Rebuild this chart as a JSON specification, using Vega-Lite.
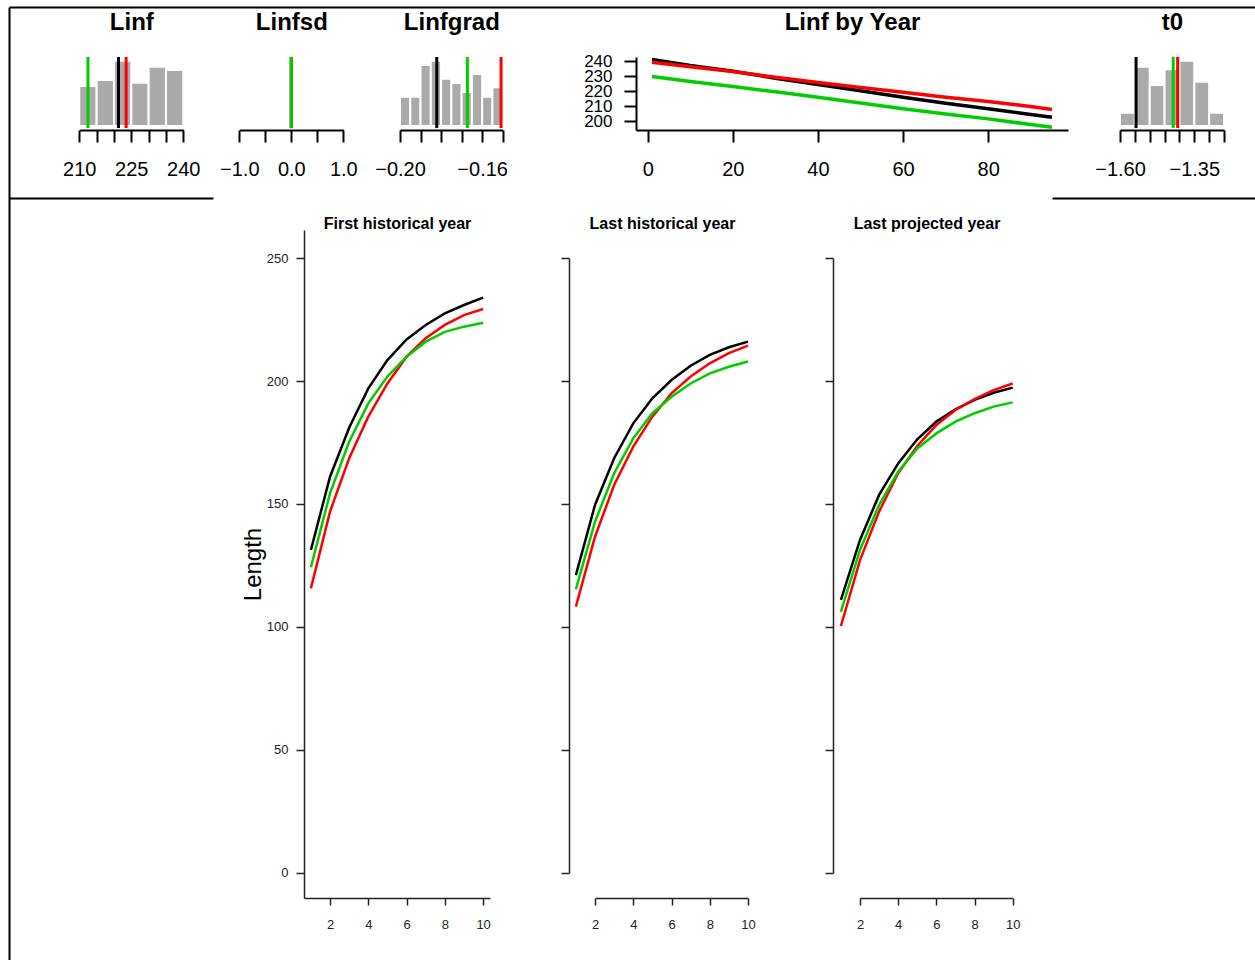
{
  "$schema": "https://vega.github.io/schema/vega-lite/v6.json",
  "width": 1255,
  "height": 960,
  "padding": 0,
  "autosize": {"type": "none"},
  "background": "white",
  "config": {
    "view": {"stroke": null},
    "font": "Liberation Sans",
    "axis": {"grid": false, "labelFlush": false, "labelOverlap": false, "labelFont": "Liberation Sans", "titleFont": "Liberation Sans", "labelColor": "#000000", "titleColor": "#000000", "domainColor": "#000000", "tickColor": "#000000"}
  },
  "datasets": {
    "hist": [
      {"param": "Linf", "lo": 210, "hi": 215, "h": 0.58},
      {"param": "Linf", "lo": 215, "hi": 220, "h": 0.667},
      {"param": "Linf", "lo": 220, "hi": 225, "h": 0.945},
      {"param": "Linf", "lo": 225, "hi": 230, "h": 0.628},
      {"param": "Linf", "lo": 230, "hi": 235, "h": 0.86},
      {"param": "Linf", "lo": 235, "hi": 240, "h": 0.81},
      {"param": "Linfgrad", "lo": -0.2, "hi": -0.195, "h": 0.425},
      {"param": "Linfgrad", "lo": -0.195, "hi": -0.19, "h": 0.425},
      {"param": "Linfgrad", "lo": -0.19, "hi": -0.185, "h": 0.884},
      {"param": "Linfgrad", "lo": -0.185, "hi": -0.18, "h": 0.947},
      {"param": "Linfgrad", "lo": -0.18, "hi": -0.175, "h": 0.686},
      {"param": "Linfgrad", "lo": -0.175, "hi": -0.17, "h": 0.623},
      {"param": "Linfgrad", "lo": -0.17, "hi": -0.165, "h": 0.493},
      {"param": "Linfgrad", "lo": -0.165, "hi": -0.16, "h": 0.754},
      {"param": "Linfgrad", "lo": -0.16, "hi": -0.155, "h": 0.425},
      {"param": "Linfgrad", "lo": -0.155, "hi": -0.15, "h": 0.56},
      {"param": "t0", "lo": -1.6, "hi": -1.55, "h": 0.193},
      {"param": "t0", "lo": -1.55, "hi": -1.5, "h": 0.86},
      {"param": "t0", "lo": -1.5, "hi": -1.45, "h": 0.594},
      {"param": "t0", "lo": -1.45, "hi": -1.4, "h": 0.821},
      {"param": "t0", "lo": -1.4, "hi": -1.35, "h": 0.947},
      {"param": "t0", "lo": -1.35, "hi": -1.3, "h": 0.643},
      {"param": "t0", "lo": -1.3, "hi": -1.25, "h": 0.193}
    ],
    "vlines": [
      {"param": "Linf", "sim": "1", "value": 221.3},
      {"param": "Linf", "sim": "2", "value": 223.5},
      {"param": "Linf", "sim": "3", "value": 212.5},
      {"param": "Linfsd", "sim": "1", "value": 0},
      {"param": "Linfsd", "sim": "2", "value": 0},
      {"param": "Linfsd", "sim": "3", "value": 0},
      {"param": "Linfgrad", "sim": "1", "value": -0.1821},
      {"param": "Linfgrad", "sim": "2", "value": -0.1508},
      {"param": "Linfgrad", "sim": "3", "value": -0.1672},
      {"param": "t0", "sim": "1", "value": -1.546},
      {"param": "t0", "sim": "2", "value": -1.406},
      {"param": "t0", "sim": "3", "value": -1.421}
    ],
    "linfyear": [
      {"sim": "1", "year": 1, "linf": 241.1},
      {"sim": "1", "year": 10, "linf": 237.1},
      {"sim": "1", "year": 20, "linf": 233.3},
      {"sim": "1", "year": 30, "linf": 228.7},
      {"sim": "1", "year": 40, "linf": 224.5},
      {"sim": "1", "year": 50, "linf": 220.3},
      {"sim": "1", "year": 60, "linf": 216},
      {"sim": "1", "year": 70, "linf": 212},
      {"sim": "1", "year": 80, "linf": 208.3},
      {"sim": "1", "year": 90, "linf": 204.5},
      {"sim": "1", "year": 95, "linf": 202.7},
      {"sim": "2", "year": 1, "linf": 239.3},
      {"sim": "2", "year": 10, "linf": 236.3},
      {"sim": "2", "year": 20, "linf": 233.1},
      {"sim": "2", "year": 30, "linf": 229.3},
      {"sim": "2", "year": 40, "linf": 225.8},
      {"sim": "2", "year": 50, "linf": 222.5},
      {"sim": "2", "year": 60, "linf": 219.3},
      {"sim": "2", "year": 70, "linf": 216},
      {"sim": "2", "year": 80, "linf": 213.1},
      {"sim": "2", "year": 90, "linf": 209.8},
      {"sim": "2", "year": 95, "linf": 207.8},
      {"sim": "3", "year": 1, "linf": 229.8},
      {"sim": "3", "year": 10, "linf": 226.5},
      {"sim": "3", "year": 20, "linf": 223.1},
      {"sim": "3", "year": 30, "linf": 219.6},
      {"sim": "3", "year": 40, "linf": 216},
      {"sim": "3", "year": 50, "linf": 212.2},
      {"sim": "3", "year": 60, "linf": 208.3},
      {"sim": "3", "year": 70, "linf": 204.9},
      {"sim": "3", "year": 80, "linf": 201.6},
      {"sim": "3", "year": 90, "linf": 197.8},
      {"sim": "3", "year": 95, "linf": 196}
    ],
    "growth": [
      {"panel": "First historical year", "sim": "1", "age": 1, "length": 131.3},
      {"panel": "First historical year", "sim": "1", "age": 2, "length": 161.1},
      {"panel": "First historical year", "sim": "1", "age": 3, "length": 181},
      {"panel": "First historical year", "sim": "1", "age": 4, "length": 197},
      {"panel": "First historical year", "sim": "1", "age": 5, "length": 208.5},
      {"panel": "First historical year", "sim": "1", "age": 6, "length": 216.9},
      {"panel": "First historical year", "sim": "1", "age": 7, "length": 222.8},
      {"panel": "First historical year", "sim": "1", "age": 8, "length": 227.5},
      {"panel": "First historical year", "sim": "1", "age": 9, "length": 230.9},
      {"panel": "First historical year", "sim": "1", "age": 10, "length": 233.9},
      {"panel": "First historical year", "sim": "2", "age": 1, "length": 115.7},
      {"panel": "First historical year", "sim": "2", "age": 2, "length": 146.9},
      {"panel": "First historical year", "sim": "2", "age": 3, "length": 168.6},
      {"panel": "First historical year", "sim": "2", "age": 4, "length": 185.5},
      {"panel": "First historical year", "sim": "2", "age": 5, "length": 199},
      {"panel": "First historical year", "sim": "2", "age": 6, "length": 209.9},
      {"panel": "First historical year", "sim": "2", "age": 7, "length": 217.4},
      {"panel": "First historical year", "sim": "2", "age": 8, "length": 222.8},
      {"panel": "First historical year", "sim": "2", "age": 9, "length": 226.8},
      {"panel": "First historical year", "sim": "2", "age": 10, "length": 229.3},
      {"panel": "First historical year", "sim": "3", "age": 1, "length": 124.3},
      {"panel": "First historical year", "sim": "3", "age": 2, "length": 154.3},
      {"panel": "First historical year", "sim": "3", "age": 3, "length": 175.3},
      {"panel": "First historical year", "sim": "3", "age": 4, "length": 190.9},
      {"panel": "First historical year", "sim": "3", "age": 5, "length": 201.8},
      {"panel": "First historical year", "sim": "3", "age": 6, "length": 209.9},
      {"panel": "First historical year", "sim": "3", "age": 7, "length": 216},
      {"panel": "First historical year", "sim": "3", "age": 8, "length": 220},
      {"panel": "First historical year", "sim": "3", "age": 9, "length": 222.1},
      {"panel": "First historical year", "sim": "3", "age": 10, "length": 223.7},
      {"panel": "Last historical year", "sim": "1", "age": 1, "length": 121.1},
      {"panel": "Last historical year", "sim": "1", "age": 2, "length": 149.6},
      {"panel": "Last historical year", "sim": "1", "age": 3, "length": 168.6},
      {"panel": "Last historical year", "sim": "1", "age": 4, "length": 182.8},
      {"panel": "Last historical year", "sim": "1", "age": 5, "length": 193},
      {"panel": "Last historical year", "sim": "1", "age": 6, "length": 200.4},
      {"panel": "Last historical year", "sim": "1", "age": 7, "length": 206.2},
      {"panel": "Last historical year", "sim": "1", "age": 8, "length": 210.6},
      {"panel": "Last historical year", "sim": "1", "age": 9, "length": 213.7},
      {"panel": "Last historical year", "sim": "1", "age": 10, "length": 216},
      {"panel": "Last historical year", "sim": "2", "age": 1, "length": 108.3},
      {"panel": "Last historical year", "sim": "2", "age": 2, "length": 136.7},
      {"panel": "Last historical year", "sim": "2", "age": 3, "length": 157.7},
      {"panel": "Last historical year", "sim": "2", "age": 4, "length": 173.3},
      {"panel": "Last historical year", "sim": "2", "age": 5, "length": 185.5},
      {"panel": "Last historical year", "sim": "2", "age": 6, "length": 195},
      {"panel": "Last historical year", "sim": "2", "age": 7, "length": 201.8},
      {"panel": "Last historical year", "sim": "2", "age": 8, "length": 207.2},
      {"panel": "Last historical year", "sim": "2", "age": 9, "length": 211.3},
      {"panel": "Last historical year", "sim": "2", "age": 10, "length": 214.4},
      {"panel": "Last historical year", "sim": "3", "age": 1, "length": 115.3},
      {"panel": "Last historical year", "sim": "3", "age": 2, "length": 142.8},
      {"panel": "Last historical year", "sim": "3", "age": 3, "length": 162.5},
      {"panel": "Last historical year", "sim": "3", "age": 4, "length": 176.7},
      {"panel": "Last historical year", "sim": "3", "age": 5, "length": 186.9},
      {"panel": "Last historical year", "sim": "3", "age": 6, "length": 193.6},
      {"panel": "Last historical year", "sim": "3", "age": 7, "length": 199},
      {"panel": "Last historical year", "sim": "3", "age": 8, "length": 203.1},
      {"panel": "Last historical year", "sim": "3", "age": 9, "length": 205.8},
      {"panel": "Last historical year", "sim": "3", "age": 10, "length": 207.9},
      {"panel": "Last projected year", "sim": "1", "age": 1, "length": 111},
      {"panel": "Last projected year", "sim": "1", "age": 2, "length": 135.4},
      {"panel": "Last projected year", "sim": "1", "age": 3, "length": 153.7},
      {"panel": "Last projected year", "sim": "1", "age": 4, "length": 166.5},
      {"panel": "Last projected year", "sim": "1", "age": 5, "length": 176.3},
      {"panel": "Last projected year", "sim": "1", "age": 6, "length": 183.5},
      {"panel": "Last projected year", "sim": "1", "age": 7, "length": 188.5},
      {"panel": "Last projected year", "sim": "1", "age": 8, "length": 192.3},
      {"panel": "Last projected year", "sim": "1", "age": 9, "length": 195.2},
      {"panel": "Last projected year", "sim": "1", "age": 10, "length": 197.3},
      {"panel": "Last projected year", "sim": "2", "age": 1, "length": 100.4},
      {"panel": "Last projected year", "sim": "2", "age": 2, "length": 127.2},
      {"panel": "Last projected year", "sim": "2", "age": 3, "length": 146.9},
      {"panel": "Last projected year", "sim": "2", "age": 4, "length": 162.5},
      {"panel": "Last projected year", "sim": "2", "age": 5, "length": 173.6},
      {"panel": "Last projected year", "sim": "2", "age": 6, "length": 182.1},
      {"panel": "Last projected year", "sim": "2", "age": 7, "length": 188.2},
      {"panel": "Last projected year", "sim": "2", "age": 8, "length": 192.6},
      {"panel": "Last projected year", "sim": "2", "age": 9, "length": 196.3},
      {"panel": "Last projected year", "sim": "2", "age": 10, "length": 199},
      {"panel": "Last projected year", "sim": "3", "age": 1, "length": 106.2},
      {"panel": "Last projected year", "sim": "3", "age": 2, "length": 131.3},
      {"panel": "Last projected year", "sim": "3", "age": 3, "length": 149.6},
      {"panel": "Last projected year", "sim": "3", "age": 4, "length": 163.1},
      {"panel": "Last projected year", "sim": "3", "age": 5, "length": 172.6},
      {"panel": "Last projected year", "sim": "3", "age": 6, "length": 178.7},
      {"panel": "Last projected year", "sim": "3", "age": 7, "length": 183.5},
      {"panel": "Last projected year", "sim": "3", "age": 8, "length": 186.9},
      {"panel": "Last projected year", "sim": "3", "age": 9, "length": 189.6},
      {"panel": "Last projected year", "sim": "3", "age": 10, "length": 191.3}
    ]
  },
  "layer": [
    {
      "data": {"name": "linfyear"},
      "mark": {"type": "point", "opacity": 0},
      "encoding": {
        "x": {"field": "year", "type": "quantitative", "scale": {"domain": [0, 100], "range": [9, 1255], "nice": false, "zero": false},
          "axis": {"orient": "top", "offset": -7, "ticks": false, "labels": false, "title": null, "domainWidth": 2}},
        "y": {"field": "linf", "type": "quantitative", "scale": {"domain": [190, 250], "range": [960, 7], "nice": false, "zero": false},
          "axis": {"orient": "left", "offset": -9, "ticks": false, "labels": false, "title": null, "domainWidth": 2}}
      }
    },
    {
      "data": {"name": "linfyear"},
      "mark": {"type": "point", "opacity": 0},
      "encoding": {
        "x": {"field": "year", "type": "quantitative", "scale": {"domain": [0, 100], "range": [9, 213], "nice": false, "zero": false},
          "axis": {"orient": "top", "offset": -198, "ticks": false, "labels": false, "title": null, "domainWidth": 2}},
        "y": {"field": "linf", "type": "quantitative", "scale": {"domain": [190, 250], "range": [960, 7], "nice": false, "zero": false}, "axis": null}
      }
    },
    {
      "data": {"name": "linfyear"},
      "mark": {"type": "point", "opacity": 0},
      "encoding": {
        "x": {"field": "year", "type": "quantitative", "scale": {"domain": [0, 100], "range": [1052, 1255], "nice": false, "zero": false},
          "axis": {"orient": "top", "offset": -198, "ticks": false, "labels": false, "title": null, "domainWidth": 2}},
        "y": {"field": "linf", "type": "quantitative", "scale": {"domain": [190, 250], "range": [960, 7], "nice": false, "zero": false}, "axis": null}
      }
    },
    {
      "data": {"name": "hist"},
      "transform": [{"filter": "datum.param == 'Linf'"}],
      "mark": {"type": "bar", "fill": "#aaaaaa", "stroke": "white", "strokeWidth": 2},
      "encoding": {
        "x": {"field": "lo", "type": "quantitative", "scale": {"domain": [210, 240], "range": [79.3, 183.3], "nice": false, "zero": false}, "axis": null},
        "x2": {"field": "hi"},
        "y": {"field": "h", "type": "quantitative", "scale": {"domain": [0, 1], "range": [126, 57], "nice": false, "zero": false}, "axis": null},
        "y2": {"datum": 0}
      }
    },
    {
      "data": {"name": "vlines"},
      "transform": [{"filter": "datum.param == 'Linf'"}],
      "mark": {"type": "rule", "strokeWidth": 3},
      "encoding": {
        "x": {"field": "value", "type": "quantitative", "scale": {"domain": [210, 240], "range": [79.3, 183.3], "nice": false, "zero": false},
          "axis": {"orient": "bottom", "offset": -830, "values": [210, 215, 220, 225, 230, 235, 240], "format": "d",
            "labelExpr": "(datum.value == 210 || datum.value == 225 || datum.value == 240) ? datum.label : ''",
            "tickSize": 12, "tickWidth": 2, "domainWidth": 2, "labelFontSize": 20, "labelPadding": 17,
            "title": "Linf", "titleFontSize": 24, "titleFontWeight": "bold", "titleY": -100.5, "titleBaseline": "alphabetic"}},
        "y": {"datum": -0.03, "type": "quantitative", "scale": {"domain": [0, 1], "range": [126, 57], "nice": false, "zero": false}, "axis": null},
        "y2": {"datum": 1},
        "color": {"field": "sim", "type": "nominal", "scale": {"domain": ["1", "2", "3"], "range": ["#000000", "#ff0000", "#00cd00"]}, "legend": null}
      }
    },
    {
      "data": {"name": "vlines"},
      "transform": [{"filter": "datum.param == 'Linfsd'"}],
      "mark": {"type": "rule", "strokeWidth": 3},
      "encoding": {
        "x": {"field": "value", "type": "quantitative", "scale": {"domain": [-1, 1], "range": [239.3, 343.3], "nice": false, "zero": false},
          "axis": {"orient": "bottom", "offset": -830, "values": [-1, -0.5, 0, 0.5, 1], "format": ".1f",
            "labelExpr": "(datum.value == -1 || datum.value == 0 || datum.value == 1) ? datum.label : ''",
            "tickSize": 12, "tickWidth": 2, "domainWidth": 2, "labelFontSize": 20, "labelPadding": 17,
            "title": "Linfsd", "titleFontSize": 24, "titleFontWeight": "bold", "titleY": -100.5, "titleBaseline": "alphabetic"}},
        "y": {"datum": -0.03, "type": "quantitative", "scale": {"domain": [0, 1], "range": [126, 57], "nice": false, "zero": false}, "axis": null},
        "y2": {"datum": 1},
        "color": {"field": "sim", "type": "nominal", "scale": {"domain": ["1", "2", "3"], "range": ["#000000", "#ff0000", "#00cd00"]}, "legend": null}
      }
    },
    {
      "data": {"name": "hist"},
      "transform": [{"filter": "datum.param == 'Linfgrad'"}],
      "mark": {"type": "bar", "fill": "#aaaaaa", "stroke": "white", "strokeWidth": 2},
      "encoding": {
        "x": {"field": "lo", "type": "quantitative", "scale": {"domain": [-0.2, -0.15], "range": [400, 502.7], "nice": false, "zero": false}, "axis": null},
        "x2": {"field": "hi"},
        "y": {"field": "h", "type": "quantitative", "scale": {"domain": [0, 1], "range": [126, 57], "nice": false, "zero": false}, "axis": null},
        "y2": {"datum": 0}
      }
    },
    {
      "data": {"name": "vlines"},
      "transform": [{"filter": "datum.param == 'Linfgrad'"}],
      "mark": {"type": "rule", "strokeWidth": 3},
      "encoding": {
        "x": {"field": "value", "type": "quantitative", "scale": {"domain": [-0.2, -0.15], "range": [400, 502.7], "nice": false, "zero": false},
          "axis": {"orient": "bottom", "offset": -830, "values": [-0.2, -0.19, -0.18, -0.17, -0.16, -0.15], "format": ".2f",
            "labelExpr": "(abs(datum.value + 0.2) < 0.000001 || abs(datum.value + 0.16) < 0.000001) ? datum.label : ''",
            "tickSize": 12, "tickWidth": 2, "domainWidth": 2, "labelFontSize": 20, "labelPadding": 17,
            "title": "Linfgrad", "titleFontSize": 24, "titleFontWeight": "bold", "titleY": -100.5, "titleBaseline": "alphabetic"}},
        "y": {"datum": -0.03, "type": "quantitative", "scale": {"domain": [0, 1], "range": [126, 57], "nice": false, "zero": false}, "axis": null},
        "y2": {"datum": 1},
        "color": {"field": "sim", "type": "nominal", "scale": {"domain": ["1", "2", "3"], "range": ["#000000", "#ff0000", "#00cd00"]}, "legend": null}
      }
    },
    {
      "data": {"name": "linfyear"},
      "mark": {"type": "line", "strokeWidth": 3.5},
      "encoding": {
        "x": {"field": "year", "type": "quantitative", "scale": {"domain": [-2.76, 98.76], "range": [636, 1068], "nice": false, "zero": false},
          "axis": {"orient": "bottom", "offset": -830, "values": [0, 20, 40, 60, 80], "format": "d",
            "tickSize": 12, "tickWidth": 2, "domainWidth": 2, "labelFontSize": 20, "labelPadding": 17,
            "title": "Linf by Year", "titleFontSize": 24, "titleFontWeight": "bold", "titleY": -100.5, "titleBaseline": "alphabetic"}},
        "y": {"field": "linf", "type": "quantitative", "scale": {"domain": [194.2, 242.8], "range": [130, 57], "nice": false, "zero": false},
          "axis": {"orient": "left", "offset": -636, "values": [200, 210, 220, 230, 240], "format": "d",
            "tickSize": 12, "tickWidth": 2, "domainWidth": 2, "labelFontSize": 17, "labelPadding": 12, "title": null}},
        "color": {"field": "sim", "type": "nominal", "scale": {"domain": ["1", "2", "3"], "range": ["#000000", "#ff0000", "#00cd00"]}, "legend": null}
      }
    },
    {
      "data": {"name": "hist"},
      "transform": [{"filter": "datum.param == 't0'"}],
      "mark": {"type": "bar", "fill": "#aaaaaa", "stroke": "white", "strokeWidth": 2},
      "encoding": {
        "x": {"field": "lo", "type": "quantitative", "scale": {"domain": [-1.6, -1.25], "range": [1120, 1224], "nice": false, "zero": false}, "axis": null},
        "x2": {"field": "hi"},
        "y": {"field": "h", "type": "quantitative", "scale": {"domain": [0, 1], "range": [126, 57], "nice": false, "zero": false}, "axis": null},
        "y2": {"datum": 0}
      }
    },
    {
      "data": {"name": "vlines"},
      "transform": [{"filter": "datum.param == 't0'"}],
      "mark": {"type": "rule", "strokeWidth": 3},
      "encoding": {
        "x": {"field": "value", "type": "quantitative", "scale": {"domain": [-1.6, -1.25], "range": [1120, 1224], "nice": false, "zero": false},
          "axis": {"orient": "bottom", "offset": -830, "values": [-1.6, -1.55, -1.5, -1.45, -1.4, -1.35, -1.3, -1.25], "format": ".2f",
            "labelExpr": "(abs(datum.value + 1.6) < 0.000001 || abs(datum.value + 1.35) < 0.000001) ? datum.label : ''",
            "tickSize": 12, "tickWidth": 2, "domainWidth": 2, "labelFontSize": 20, "labelPadding": 17,
            "title": "t0", "titleFontSize": 24, "titleFontWeight": "bold", "titleY": -100.5, "titleBaseline": "alphabetic"}},
        "y": {"datum": -0.03, "type": "quantitative", "scale": {"domain": [0, 1], "range": [126, 57], "nice": false, "zero": false}, "axis": null},
        "y2": {"datum": 1},
        "color": {"field": "sim", "type": "nominal", "scale": {"domain": ["1", "2", "3"], "range": ["#000000", "#ff0000", "#00cd00"]}, "legend": null}
      }
    },
    {
      "data": {"name": "growth"},
      "transform": [{"filter": "datum.panel == 'First historical year'"}],
      "mark": {"type": "line", "strokeWidth": 2.5},
      "encoding": {
        "x": {"field": "age", "type": "quantitative", "scale": {"domain": [0.64, 10.36], "range": [304, 490], "nice": false, "zero": false},
          "axis": {"orient": "bottom", "offset": -62, "values": [2, 4, 6, 8, 10], "format": "d",
            "tickSize": 7, "tickWidth": 1.5, "domainWidth": 1.5, "domainColor": "#222222", "tickColor": "#222222", "labelColor": "#222222", "labelFontSize": 13, "labelPadding": 13,
            "title": "First historical year", "titleFontSize": 16, "titleFontWeight": "bold", "titleY": -670, "titleX": 397, "titleBaseline": "alphabetic"}},
        "y": {"field": "length", "type": "quantitative", "scale": {"domain": [-10.2, 261.4], "range": [898, 230], "nice": false, "zero": false},
          "axis": {"orient": "left", "offset": -304, "values": [0, 50, 100, 150, 200, 250], "format": "d",
            "tickSize": 8, "tickWidth": 1.5, "domainWidth": 1.5, "domainColor": "#222222", "tickColor": "#222222", "labelColor": "#222222", "labelFontSize": 13, "labelPadding": 8,
            "title": "Length", "titleFontSize": 24, "titleFontWeight": "normal", "titleX": -44, "titleY": 564, "titleBaseline": "alphabetic", "titleAlign": "center", "titleAngle": 270}},
        "color": {"field": "sim", "type": "nominal", "scale": {"domain": ["1", "2", "3"], "range": ["#000000", "#ff0000", "#00cd00"]}, "legend": null}
      }
    },
    {
      "data": {"name": "growth"},
      "transform": [{"filter": "datum.panel == 'Last historical year'"}],
      "mark": {"type": "line", "strokeWidth": 2.5},
      "encoding": {
        "x": {"field": "age", "type": "quantitative", "scale": {"domain": [2, 10], "range": [595, 748], "nice": false, "zero": false},
          "axis": {"orient": "bottom", "offset": -62, "values": [2, 4, 6, 8, 10], "format": "d",
            "tickSize": 7, "tickWidth": 1.5, "domainWidth": 1.5, "domainColor": "#222222", "tickColor": "#222222", "labelColor": "#222222", "labelFontSize": 13, "labelPadding": 13,
            "title": "Last historical year", "titleFontSize": 16, "titleFontWeight": "bold", "titleY": -670, "titleX": 662, "titleBaseline": "alphabetic"}},
        "y": {"field": "length", "type": "quantitative", "scale": {"domain": [0, 250], "range": [873, 258], "nice": false, "zero": false},
          "axis": {"orient": "left", "offset": -569, "values": [0, 50, 100, 150, 200, 250], "labels": false,
            "tickSize": 8, "tickWidth": 1.5, "domainWidth": 1.5, "domainColor": "#222222", "tickColor": "#222222", "title": null}},
        "color": {"field": "sim", "type": "nominal", "scale": {"domain": ["1", "2", "3"], "range": ["#000000", "#ff0000", "#00cd00"]}, "legend": null}
      }
    },
    {
      "data": {"name": "growth"},
      "transform": [{"filter": "datum.panel == 'Last projected year'"}],
      "mark": {"type": "line", "strokeWidth": 2.5},
      "encoding": {
        "x": {"field": "age", "type": "quantitative", "scale": {"domain": [2, 10], "range": [860, 1012.7], "nice": false, "zero": false},
          "axis": {"orient": "bottom", "offset": -62, "values": [2, 4, 6, 8, 10], "format": "d",
            "tickSize": 7, "tickWidth": 1.5, "domainWidth": 1.5, "domainColor": "#222222", "tickColor": "#222222", "labelColor": "#222222", "labelFontSize": 13, "labelPadding": 13,
            "title": "Last projected year", "titleFontSize": 16, "titleFontWeight": "bold", "titleY": -670, "titleX": 926.5, "titleBaseline": "alphabetic"}},
        "y": {"field": "length", "type": "quantitative", "scale": {"domain": [0, 250], "range": [873, 258], "nice": false, "zero": false},
          "axis": {"orient": "left", "offset": -833, "values": [0, 50, 100, 150, 200, 250], "labels": false,
            "tickSize": 8, "tickWidth": 1.5, "domainWidth": 1.5, "domainColor": "#222222", "tickColor": "#222222", "title": null}},
        "color": {"field": "sim", "type": "nominal", "scale": {"domain": ["1", "2", "3"], "range": ["#000000", "#ff0000", "#00cd00"]}, "legend": null}
      }
    }
  ],
  "resolve": {
    "scale": {"x": "independent", "y": "independent"},
    "axis": {"x": "independent", "y": "independent"}
  }
}
